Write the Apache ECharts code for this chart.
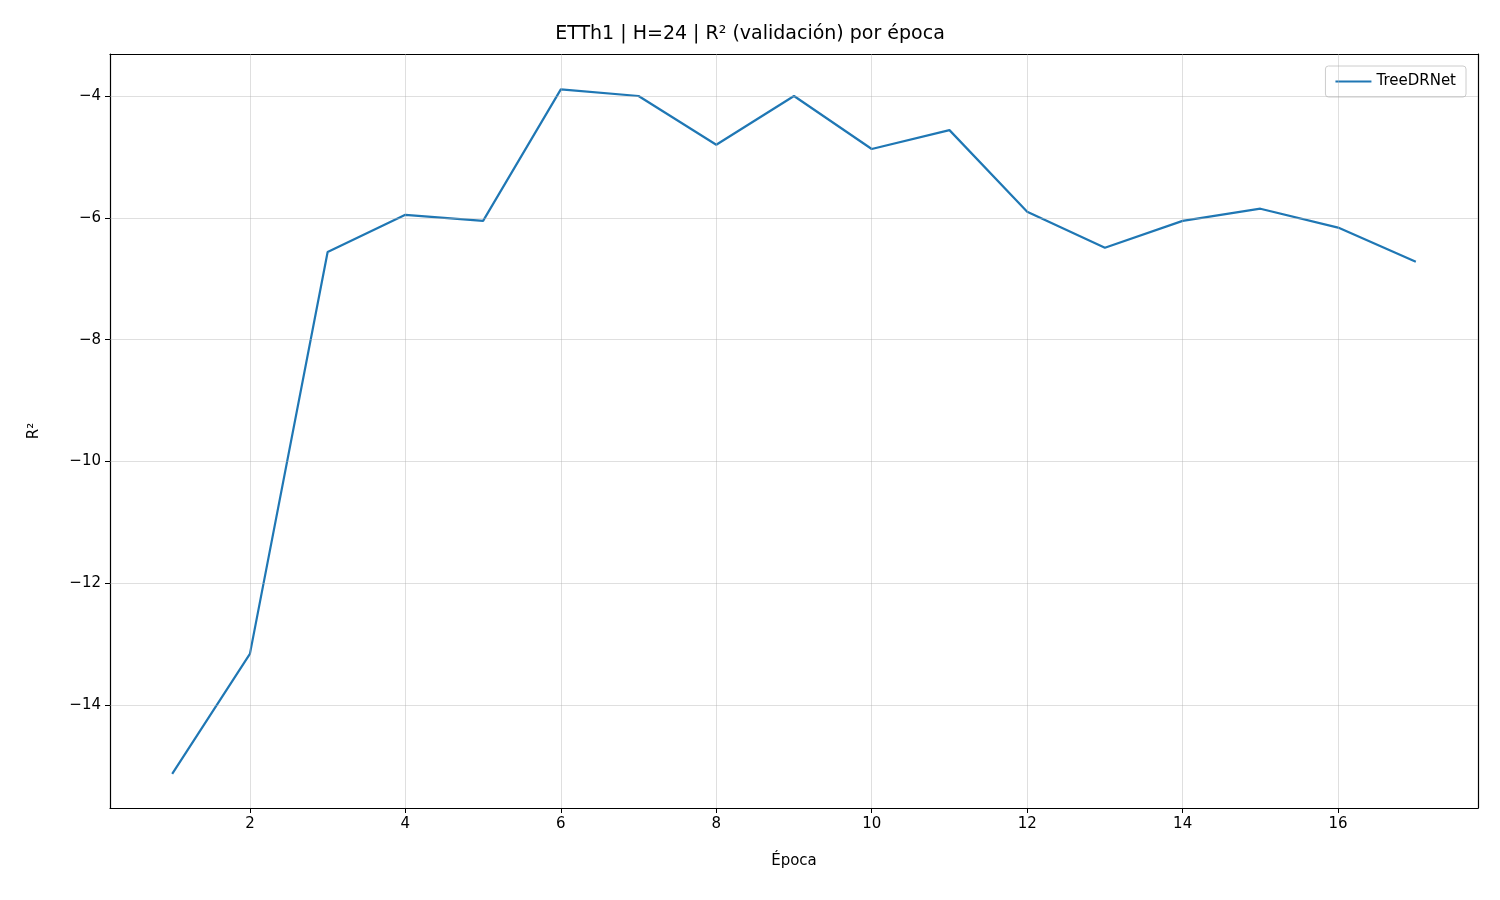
<!DOCTYPE html>
<html><head><meta charset="utf-8">
<script src="https://cdn.jsdelivr.net/npm/echarts@6/dist/echarts.min.js"></script>
<style>html,body{margin:0;background:#fff}#c{width:1500px;height:900px}</style>
</head><body><div id="c"></div>
<script>
const epochs = [1,2,3,4,5,6,7,8,9,10,11,12,13,14,15,16,17];
const r2 = [-15.13,-13.16,-6.56,-5.95,-6.05,-3.89,-4.0,-4.80,-4.0,-4.87,-4.56,-5.90,-6.49,-6.05,-5.85,-6.16,-6.72];
const xTicks = [2,4,6,8,10,12,14,16];
const yTicks = [-14,-12,-10,-8,-6,-4];

const font = 'DejaVu Sans';
const gridLine = { color: '#b0b0b0', width: 1, opacity: 0.4, type: 'solid' };
const frame = { show: true, onZero: false, lineStyle: { color: '#000', width: 1.2 } };
const chart = echarts.init(document.getElementById('c'));
chart.setOption({
  animation: false,
  textStyle: { fontFamily: font },
  title: { text: 'ETTh1 | H=24 | R² (validación) por época', left: 'center', top: 20,
    textStyle: { fontFamily: font, fontSize: 19, fontWeight: 'normal', color: '#000' } },
  legend: { data: ['TreeDRNet'], right: 34, top: 66, itemWidth: 36, itemHeight: 2, icon: 'rect', itemGap: 10,
    borderColor: '#ccc', borderWidth: 1, borderRadius: 3, padding: [8, 10],
    textStyle: { fontFamily: font, fontSize: 15, color: '#000' } },
  grid: { left: 110, right: 22, top: 54, bottom: 92 },
  xAxis: [{ type: 'value', min: 0.2, max: 17.8, name: 'Época', nameLocation: 'middle', nameGap: 46,
    nameTextStyle: { fontFamily: font, fontSize: 15, color: '#000' },
    axisLine: frame,
    axisTick: { show: true, customValues: xTicks, length: 5, lineStyle: { color: '#000' } },
    axisLabel: { customValues: xTicks, color: '#000', fontSize: 15, margin: 9 },
    splitLine: { show: false } },
    { type: 'value', position: 'top', min: 0.2, max: 17.8, axisLine: frame,
      axisTick: { show: false }, axisLabel: { show: false }, splitLine: { show: false } }],
  yAxis: [{ type: 'value', min: -15.69, max: -3.31, name: 'R²', nameLocation: 'middle', nameGap: 68,
    nameTextStyle: { fontFamily: font, fontSize: 15, color: '#000' },
    axisLine: frame,
    axisTick: { show: true, customValues: yTicks, length: 5, lineStyle: { color: '#000' } },
    axisLabel: { customValues: yTicks, color: '#000', fontSize: 15, margin: 9,
      formatter: v => String(v).replace('-', '−') },
    splitLine: { show: false } },
    { type: 'value', position: 'right', min: -15.69, max: -3.31, axisLine: frame,
      axisTick: { show: false }, axisLabel: { show: false }, splitLine: { show: false } }],
  series: [
    { type: 'line', name: 'grid', silent: true, data: [], markLine: { silent: true, symbol: 'none', label: { show: false },
        lineStyle: gridLine, data: xTicks.map(v => ({ xAxis: v })).concat(yTicks.map(v => ({ yAxis: v }))) } },
    { type: 'line', name: 'TreeDRNet', data: epochs.map((e, i) => [e, r2[i]]), showSymbol: false,
      lineStyle: { color: '#1f77b4', width: 2.2 }, itemStyle: { color: '#1f77b4' } }
  ]
});
</script></body></html>
